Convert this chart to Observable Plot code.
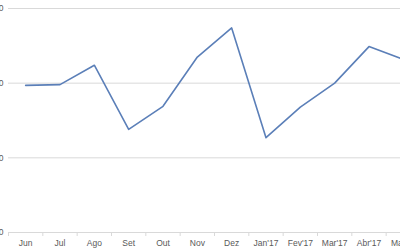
<!DOCTYPE html>
<html>
<head>
<meta charset="utf-8">
<script src="https://cdn.jsdelivr.net/npm/d3@7"></script>
<script src="https://cdn.jsdelivr.net/npm/@observablehq/plot@0.6"></script>
<style>
  html, body { margin: 0; padding: 0; background: #fff; overflow: hidden; width: 400px; height: 250px; }
  #chart svg { display: block; max-width: none !important; width: 420px !important; height: 250px !important; }
</style>
</head>
<body>
<div id="chart"></div>
<script>
const months = ["Jun", "Jul", "Ago", "Set", "Out", "Nov", "Dez", "Jan'17", "Fev'17", "Mar'17", "Abr'17", "Mai'17"];
const values = [1.97, 1.98, 2.24, 1.38, 1.69, 2.35, 2.74, 1.27, 1.68, 2.00, 2.49, 2.32];
const yTicks = [0, 1, 2, 3];

const data = months.map((m, i) => ({ i: i + 0.5, month: m, value: values[i] }));
const boundaries = d3.range(0, months.length + 1);
const centers = d3.range(months.length).map(i => i + 0.5);

const chart = Plot.plot({
  width: 420,
  height: 250,
  marginLeft: 8,
  marginRight: 0,
  marginTop: 8,
  marginBottom: 18,
  style: { fontFamily: "Liberation Sans, Arial, sans-serif", fontSize: "8.5px", color: "#595959", background: "#fff" },
  x: { domain: [0, months.length] },
  y: { domain: [0, 3] },
  marks: [
    Plot.ruleY(yTicks.slice(1), { stroke: "#d9d9d9", strokeWidth: 1, strokeOpacity: 1 }),
    Plot.ruleY([0], { stroke: "#d9d9d9", strokeWidth: 1, strokeOpacity: 1 }),
    Plot.axisY({ ticks: yTicks, tickSize: 0, tickPadding: 5, label: null, fill: "#595959" }),
    Plot.axisX({ ticks: boundaries, tickSize: 4, tickFormat: () => "", label: null, stroke: "#d9d9d9" }),
    Plot.axisX({ ticks: centers, tickSize: 0, tickPadding: 7, tickFormat: d => months[Math.floor(d)], label: null, fill: "#595959" }),
    Plot.line(data, { x: "i", y: "value", stroke: "#5b7fb8", strokeWidth: 1.6, curve: "linear" })
  ]
});
document.getElementById("chart").appendChild(chart);
</script>
</body>
</html>
